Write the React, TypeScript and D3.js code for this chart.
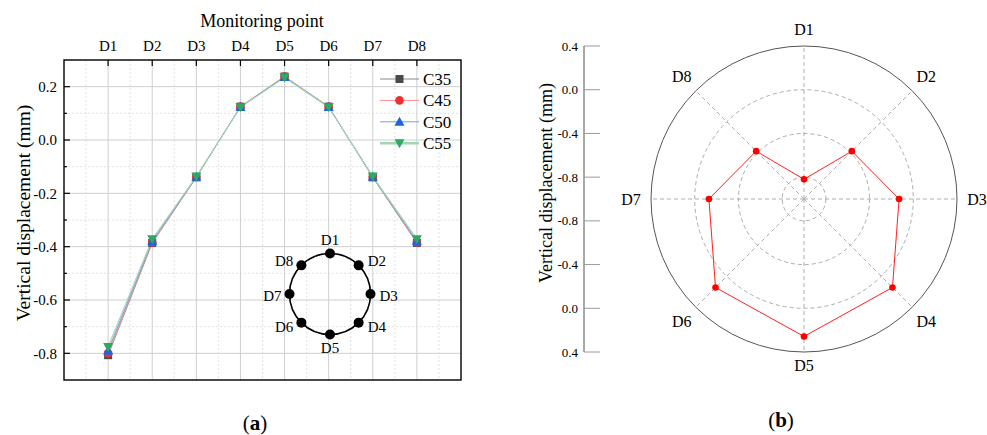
import React from "react";
import * as d3 from "d3";

// Monitoring points around the ring
const points = ["D1", "D2", "D3", "D4", "D5", "D6", "D7", "D8"];

// Vertical displacement (mm) per concrete grade
const c35 = [-0.807, -0.386, -0.14, 0.125, 0.238, 0.125, -0.14, -0.386];
const c45 = [-0.8, -0.384, -0.139, 0.125, 0.238, 0.125, -0.139, -0.384];
const c50 = [-0.79, -0.379, -0.138, 0.124, 0.236, 0.124, -0.138, -0.379];
const c55 = [-0.776, -0.372, -0.137, 0.123, 0.234, 0.123, -0.137, -0.372];

// Polar view values (mm)
const polarValues = [-0.82, -0.381, -0.13, 0.145, 0.258, 0.145, -0.13, -0.381];

const yTicks = [-0.8, -0.6, -0.4, -0.2, 0.0, 0.2];
const yMinorTicks = [-0.9, -0.7, -0.5, -0.3, -0.1, 0.1, 0.3];
const radialTicks = [0.4, 0.0, -0.4, -0.8];

const FONT = "'Liberation Serif', 'Times New Roman', serif";

// one decimal, plain hyphen for negatives
const fmt = (v: number) => {
  const s = Math.abs(v).toFixed(1);
  return v < -1e-9 ? "-" + s : s;
};

type Series = {
  name: string;
  values: number[];
  line: string;
  lineWidth: number;
  marker: string;
  shape: "square" | "circle" | "up" | "down";
};

const series: Series[] = [
  { name: "C35", values: c35, line: "#8a8a8a", lineWidth: 1, marker: "#4a4a4a", shape: "square" },
  { name: "C45", values: c45, line: "#ff8c8c", lineWidth: 1, marker: "#f03030", shape: "circle" },
  { name: "C50", values: c50, line: "#6b9ff0", lineWidth: 1, marker: "#1c64e0", shape: "up" },
  { name: "C55", values: c55, line: "#9fd8b0", lineWidth: 1.2, marker: "#2fa860", shape: "down" },
];

function Marker({ x, y, shape, color }: { x: number; y: number; shape: Series["shape"]; color: string }) {
  const s = 4;
  if (shape === "square") return <rect x={x - s} y={y - s} width={2 * s} height={2 * s} fill={color} />;
  if (shape === "circle") return <circle cx={x} cy={y} r={4.3} fill={color} />;
  if (shape === "up")
    return <path d={`M${x},${y - 5}L${x + 5},${y + 4}L${x - 5},${y + 4}Z`} fill={color} />;
  return <path d={`M${x},${y + 5}L${x + 5},${y - 4}L${x - 5},${y - 4}Z`} fill={color} />;
}

function LineChart() {
  const left = 64, right = 461, top = 60, bottom = 380;
  const x = d3.scaleLinear().domain([0, 9]).range([left, right]);
  const y = d3.scaleLinear().domain([-0.9, 0.3]).range([bottom, top]);
  const line = d3
    .line<number>()
    .x((_, i) => x(i + 1))
    .y((v) => y(v));
  const xMinor = d3.range(0.5, 9, 1);

  // inset ring diagram
  const cx = 330, cy = 294, rr = 40.5;
  const ang = points.map((_, i) => (i * Math.PI) / 4);

  return (
    <g fontFamily={FONT}>
      {/* minor grid */}
      {xMinor.map((v) => (
        <line key={"xm" + v} x1={x(v)} x2={x(v)} y1={top} y2={bottom} stroke="#e2e2e2" strokeDasharray="2,2" />
      ))}
      {yMinorTicks.map((v) => (
        <line key={"ym" + v} x1={left} x2={right} y1={y(v)} y2={y(v)} stroke="#e2e2e2" strokeDasharray="2,2" />
      ))}
      {/* major grid */}
      {points.map((_, i) => (
        <line key={"xg" + i} x1={x(i + 1)} x2={x(i + 1)} y1={top} y2={bottom} stroke="#cfcfcf" />
      ))}
      {yTicks.map((v) => (
        <line key={"yg" + v} x1={left} x2={right} y1={y(v)} y2={y(v)} stroke="#cfcfcf" />
      ))}

      {/* series lines */}
      {series.map((s) => (
        <path key={s.name} d={line(s.values) || ""} fill="none" stroke={s.line} strokeWidth={s.lineWidth} />
      ))}
      {series.map((s) =>
        s.values.map((v, i) => <Marker key={s.name + i} x={x(i + 1)} y={y(v)} shape={s.shape} color={s.marker} />)
      )}

      {/* frame */}
      <rect x={left} y={top} width={right - left} height={bottom - top} fill="none" stroke="#000" strokeWidth={1.4} />
      {/* top axis ticks and labels */}
      {points.map((p, i) => (
        <g key={"xt" + p}>
          <line x1={x(i + 1)} x2={x(i + 1)} y1={top} y2={top + 6} stroke="#000" strokeWidth={1.2} />
          <text x={x(i + 1)} y={51} textAnchor="middle" fontSize={15}>
            {p}
          </text>
        </g>
      ))}
      <text x={262} y={27} textAnchor="middle" fontSize={18}>
        Monitoring point
      </text>
      {/* left axis ticks and labels */}
      {yTicks.map((v) => (
        <g key={"yt" + v}>
          <line x1={left} x2={left + 6} y1={y(v)} y2={y(v)} stroke="#000" strokeWidth={1.2} />
          <text x={57} y={y(v)} dy="0.35em" textAnchor="end" fontSize={15}>
            {fmt(v)}
          </text>
        </g>
      ))}
      {yMinorTicks.slice(1, -1).map((v) => (
        <line key={"ymt" + v} x1={left} x2={left + 3} y1={y(v)} y2={y(v)} stroke="#000" strokeWidth={1.2} />
      ))}
      <text
        transform={`translate(23.5,213) rotate(-90)`}
        textAnchor="middle"
        dy="0.35em"
        fontSize={19.5}
      >
        Vertical displacement (mm)
      </text>

      {/* legend */}
      {series.map((s, i) => {
        const ly = 79 + i * 21.4;
        return (
          <g key={"lg" + s.name}>
            <line x1={380} x2={419} y1={ly} y2={ly} stroke={s.line} strokeWidth={s.shape === "down" ? 2.5 : 1} />
            <Marker x={399.5} y={ly} shape={s.shape} color={s.marker} />
            <text x={423} y={ly} dy="0.35em" fontSize={17}>
              {s.name}
            </text>
          </g>
        );
      })}

      {/* inset ring with monitoring points */}
      <circle cx={cx} cy={cy} r={rr} fill="none" stroke="#000" strokeWidth={1.6} />
      {ang.map((a, i) => {
        const px = cx + rr * Math.sin(a);
        const py = cy - rr * Math.cos(a);
        const sx = Math.sin(a), cyy = Math.cos(a);
        let tx = px, ty = py, anchor: "start" | "end" | "middle" = "middle";
        if (Math.abs(sx) < 0.1) {
          ty = py - cyy * 13.5;
        } else {
          anchor = sx > 0 ? "start" : "end";
          tx = px + (sx > 0 ? 9 : -8);
          ty = py - cyy * 6 + (Math.abs(cyy) < 0.1 ? 2 : 0);
        }
        return (
          <g key={"ring" + i}>
            <circle cx={px} cy={py} r={5} fill="#000" />
            <text x={tx} y={ty} dy="0.35em" textAnchor={anchor} fontSize={15}>
              {points[i]}
            </text>
          </g>
        );
      })}

      <text x={255} y={423} dy="0.35em" textAnchor="middle" fontSize={21}>
        (<tspan fontWeight="bold">a</tspan>)
      </text>
    </g>
  );
}

function PolarChart() {
  const cx = 804, cy = 199, R = 153;
  const r = d3.scaleLinear().domain([-1.0, 0.4]).range([0, R]);
  const angle = (i: number) => (i * Math.PI) / 4;
  const radial = d3
    .lineRadial<number>()
    .angle((_, i) => angle(i))
    .radius((v) => r(v))
    .curve(d3.curveLinearClosed);
  const axisX = 584;

  return (
    <g fontFamily={FONT}>
      {/* dashed rings */}
      {radialTicks.slice(1).map((v) => (
        <circle key={"ring" + v} cx={cx} cy={cy} r={r(v)} fill="none" stroke="#adadad" strokeDasharray="4,3" />
      ))}
      {/* spokes */}
      {points.map((_, i) => (
        <line
          key={"sp" + i}
          x1={cx}
          y1={cy}
          x2={cx + R * Math.sin(angle(i))}
          y2={cy - R * Math.cos(angle(i))}
          stroke="#adadad"
          strokeDasharray="4,3"
        />
      ))}
      <circle cx={cx} cy={cy} r={R} fill="none" stroke="#555" strokeWidth={1} />

      {/* data */}
      <path d={radial(polarValues) || ""} transform={`translate(${cx},${cy})`} fill="none" stroke="#ff2020" strokeWidth={1} />
      {polarValues.map((v, i) => (
        <circle
          key={"pt" + i}
          cx={cx + r(v) * Math.sin(angle(i))}
          cy={cy - r(v) * Math.cos(angle(i))}
          r={3.3}
          fill="#ff0000"
        />
      ))}

      {/* angular labels */}
      {points.map((p, i) => {
        const lr = i === 0 ? 170 : i === 4 ? 166 : 173;
        return (
          <text
            key={"al" + p}
            x={cx + lr * Math.sin(angle(i))}
            y={cy - lr * Math.cos(angle(i))}
            dy="0.35em"
            textAnchor="middle"
            fontSize={16}
          >
            {p}
          </text>
        );
      })}

      {/* radial axis, mirrored above and below the centre */}
      <line x1={axisX} x2={axisX} y1={cy - R} y2={cy + R} stroke="#a8a8a8" strokeWidth={2} />
      {[-1, 1].map((side) =>
        radialTicks.map((v) => {
          const ty = cy + side * r(v);
          return (
            <g key={"rt" + side + v}>
              <line x1={axisX} x2={axisX + 16} y1={ty} y2={ty} stroke="#9a9a9a" strokeWidth={1} />
              <text x={578} y={ty} dy="0.35em" textAnchor="end" fontSize={13}>
                {fmt(v)}
              </text>
            </g>
          );
        })
      )}
      <text transform={`translate(546,183) rotate(-90)`} textAnchor="middle" dy="0.35em" fontSize={18}>
        Vertical displacement (mm)
      </text>

      <text x={781} y={420} dy="0.35em" textAnchor="middle" fontSize={21}>
        (<tspan fontWeight="bold">b</tspan>)
      </text>
    </g>
  );
}

export default function App() {
  return (
    <svg
      width={987}
      height={435}
      viewBox="0 0 987 435"
      style={{ position: "absolute", left: 0, top: 0, background: "#fff" }}
    >
      <rect width={987} height={435} fill="#fff" />
      <LineChart />
      <PolarChart />
    </svg>
  );
}
